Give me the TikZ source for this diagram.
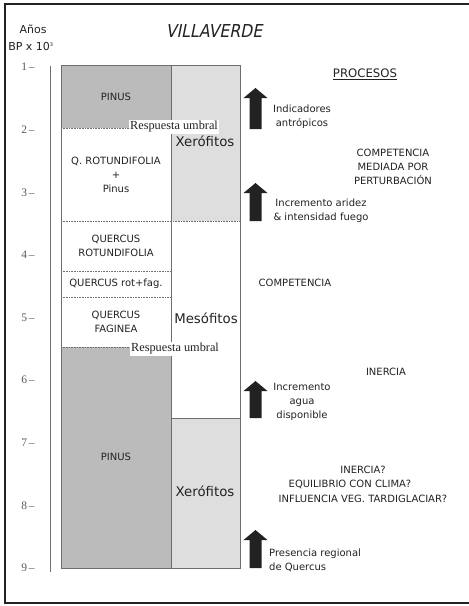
\documentclass[tikz,border=0pt]{standalone}
\usepackage{fontspec}
\setmainfont{DejaVu Sans}
\newfontfamily\serifface{Liberation Serif}
\newfontfamily\titleface[FakeStretch=0.88,FakeSlant=0.2]{DejaVu Sans}
\definecolor{darkfill}{HTML}{BBBBBB}
\definecolor{lightfill}{HTML}{DEDEDE}
\definecolor{edge}{HTML}{6E6E6E}
\definecolor{ink}{HTML}{222222}
\newcommand\blockarrow[4]{% name, x, top, bottom
  \fill[ink] ({#2-6},#4) -- ({#2-6},{#3+10}) -- ({#2-12},{#3+10}) -- (#2,#3)
    -- ({#2+12},{#3+10}) -- ({#2+6},{#3+10}) -- ({#2+6},#4) -- cycle;
  \coordinate (#1) at (#2,#3);}
\begin{document}
\begin{tikzpicture}[x=1pt,y=-1pt,
  lbl/.style={font=\fontsize{10}{14}\selectfont, text=ink, align=center, inner sep=0pt},
  bigl/.style={font=\fontsize{13.3}{16}\selectfont, text=ink, inner sep=0pt},
  umbral/.style={font=\serifface\fontsize{12.3}{14}\selectfont, fill=white, inner sep=1.2pt, text=ink},
  ticklbl/.style={font=\serifface\fontsize{11.5}{13}\selectfont, text=black!65, inner sep=0pt},
  sect/.style={edge, densely dotted, line width=0.6pt},
  colbox/.style={edge, line width=0.6pt}]
\useasboundingbox (0,0) rectangle (469,606);
% frame
\draw[ink, line width=1.6pt] (469,4) -- (5,4) -- (5,603) -- (469,603);
% axis
\node[font=\fontsize{11}{13}\selectfont, text=ink, inner sep=0pt] (anos) at (33,29) {Años};
\node[font=\fontsize{11}{13}\selectfont, text=ink, inner sep=0pt] (bp) at (31,46) {BP x 10\textsuperscript{\tiny 3}};
\draw[edge, line width=0.7pt] (50,66) -- (50,572);
\foreach \n in {1,...,9}{
  \node[ticklbl] (t\n) at (28,{67+(\n-1)*62.625}) {\n\,–};
}
% title
\node[font=\titleface\fontsize{17.8}{20}\selectfont, text=ink, inner sep=0pt] (title) at (214,31) {VILLAVERDE};
% fills
\fill[darkfill] (61,65) rectangle (171,128);
\fill[lightfill] (171,65) rectangle (240,221);
\fill[darkfill] (61,347) rectangle (171,568);
\fill[lightfill] (171,418) rectangle (240,568);
% section lines
\draw[sect] (61,128) -- (171,128);
\draw[sect] (61,221) -- (240,221);
\draw[sect] (61,271) -- (171,271);
\draw[sect] (61,297) -- (171,297);
\draw[sect] (61,347) -- (171,347);
\draw[colbox] (171,418) -- (240,418);
\draw[colbox] (61,65) rectangle (240,568);
\draw[colbox] (171,65) -- (171,568);
% left column labels
\node[lbl] (pinus1) at (116,97) {PINUS};
\node[lbl] (qrot) at (116,175) {Q. ROTUNDIFOLIA\\+\\Pinus};
\node[lbl] (qr) at (116,246) {QUERCUS\\ROTUNDIFOLIA};
\node[lbl] (qrf) at (116,284) {QUERCUS rot+fag.};
\node[lbl] (qf) at (116,322) {QUERCUS\\FAGINEA};
\node[lbl] (pinus2) at (116,457) {PINUS};
% right column labels
\node[bigl] (xer1) at (205,141) {Xerófitos};
\node[bigl] (meso) at (206,318) {Mesófitos};
\node[bigl] (xer2) at (205,491) {Xerófitos};
% thresholds
\node[umbral] (um1) at (174,127) {Respuesta umbral};
\node[umbral] (um2) at (175,349) {Respuesta umbral};
% arrows
\blockarrow{a1}{255.5}{88}{129}
\blockarrow{a2}{255.5}{183}{221}
\blockarrow{a3}{255.5}{381}{418}
\blockarrow{a4}{255.5}{530}{568}
\node[lbl] (ind) at (302,117) {Indicadores\\antrópicos};
\node[lbl] (arid) at (321,211) {Incremento aridez\\\& intensidad fuego};
\node[lbl] (agua) at (302,402) {Incremento\\agua\\disponible};
\node[lbl, align=left, anchor=west] (pres) at (269,560) {Presencia regional\\de Quercus};
% processes
\node[lbl, font=\fontsize{11.7}{14}\selectfont] (proc) at (365,74) {\underline{PROCESOS}};
\node[lbl] (cmp) at (393,167) {COMPETENCIA\\MEDIADA POR\\PERTURBACIÓN};
\node[lbl] (comp) at (295,283) {COMPETENCIA};
\node[lbl] (iner) at (386,372) {INERCIA};
\node[lbl] (in1) at (363,470) {INERCIA?};
\node[lbl] (in2) at (350,484) {EQUILIBRIO CON CLIMA?};
\node[lbl] (in3) at (363,499) {INFLUENCIA VEG. TARDIGLACIAR?};
\end{tikzpicture}
\end{document}
